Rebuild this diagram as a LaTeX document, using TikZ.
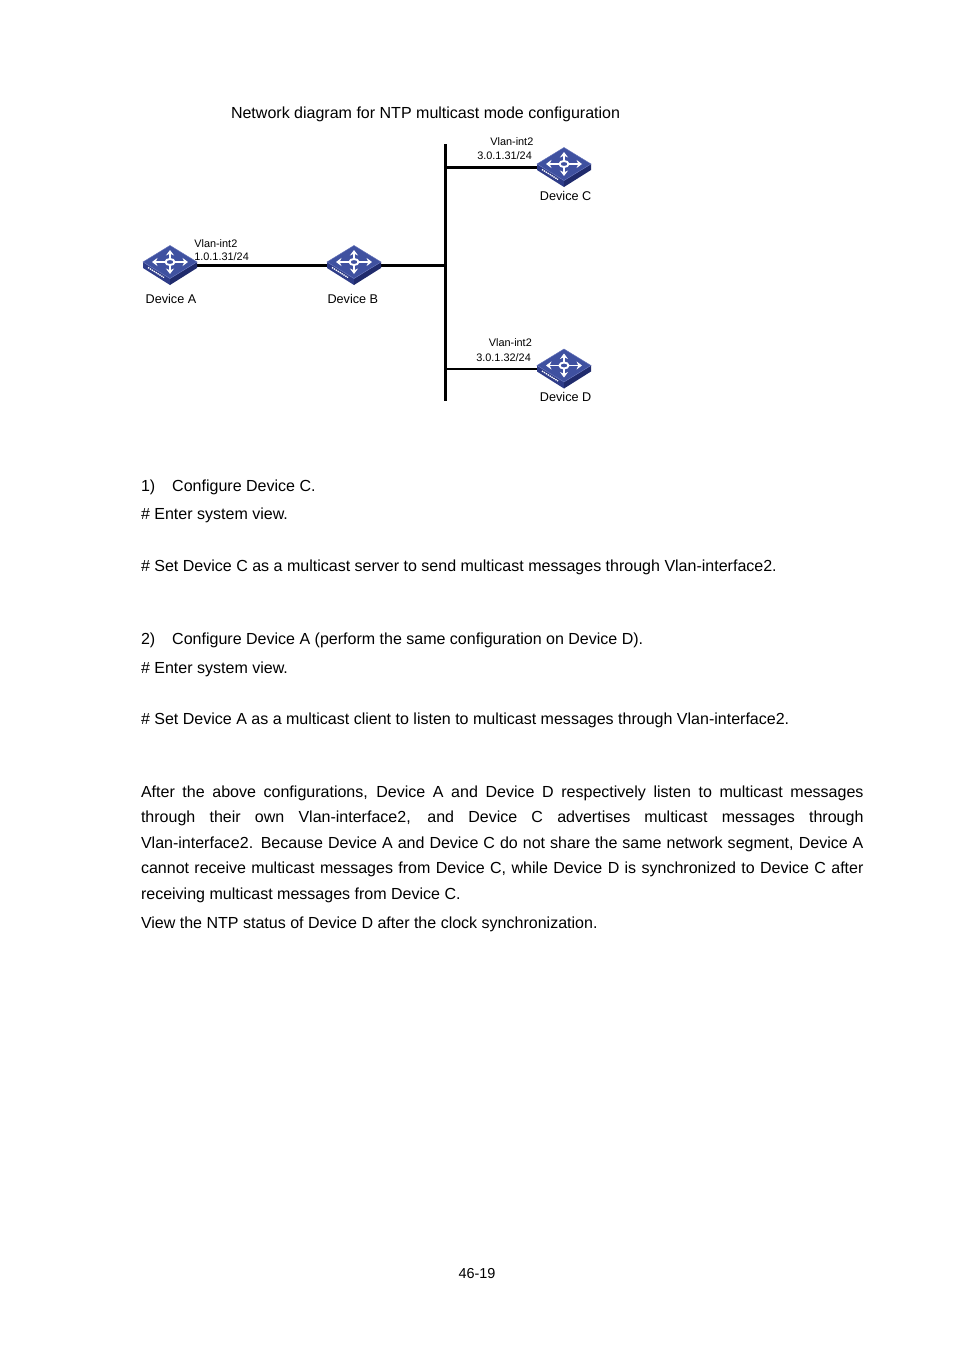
\documentclass[tikz,border=0pt]{standalone}
\usepackage{fontspec}
\setmainfont{Liberation Sans}
\usetikzlibrary{arrows.meta,positioning}
\definecolor{swtop}{HTML}{3F51A0}
\definecolor{swedge}{HTML}{6472B8}
\definecolor{swleft}{HTML}{2E3C88}
\definecolor{swright}{HTML}{202B6C}

\begin{document}
\begin{tikzpicture}[x=0.6242pt, y=-0.6242pt]
    \tikzset{
      body/.style={anchor=base west, inner sep=0pt, font=\fontsize{10}{16}\selectfont},
      para/.style={body, text width=451pt, align=justify},
      devlabel/.style={inner sep=0pt, font=\fontsize{7.9}{10}\selectfont},
      iflabel/.style={anchor=base west, inner sep=0pt, font=\fontsize{6.8}{9}\selectfont},
      swbox/.style={minimum width=33.7pt, minimum height=24.3pt, inner sep=0pt},
      link/.style={line width=1.7pt},
      swarrow/.style={white, line width=1.1pt, -{Stealth[length=3.4pt,width=5pt]}},
      switchicon/.pic={
        \fill[swleft]  (-27,-3.5) -- (-27,2.5) -- (0,19.5) -- (0,13) -- cycle;
        \fill[swright] (27,-3.5) -- (27,2.5) -- (0,19.5) -- (0,13) -- cycle;
        \fill[swtop, draw=swedge, line width=0.3pt] (0,-20) -- (27,-3.5) -- (0,13) -- (-27,-3.5) -- cycle;
        \draw[swarrow] (0,-7) -- (0,-15.5);
        \draw[swarrow] (0,0) -- (0,8.5);
        \draw[swarrow] (-5,-3.5) -- (-18,-3.5);
        \draw[swarrow] (5,-3.5) -- (18,-3.5);
        \draw[white, line width=1.2pt, fill=swtop] (0,-3.5) ellipse (4.5 and 3);
        \draw[white, line width=0.8pt, dash pattern=on 0.9pt off 0.5pt] (-22,2) -- (-6,12);
      }
    }
    \useasboundingbox (0,0) rectangle (954,1350);
    \node[body] (title) at (230.7,119) {Network diagram for NTP multicast mode configuration};

    \node[swbox] (devA) at (170,265.5) {};
    \node[swbox] (devB) at (354,265.5) {};
    \node[swbox] (devC) at (564,167.5) {};
    \node[swbox] (devD) at (564,369) {};
    \coordinate (bustop) at (445.5,144);
    \coordinate (busbot) at (445.5,401);
    \coordinate (busb) at (445.5,265.5);
    \coordinate (busc) at (445.5,167.5);
    \coordinate (busd) at (445.5,369);

    \draw[link] (bustop) -- (busbot);
    \draw[link] (devA) -- (devB);
    \draw[link] (devB) -- (busb);
    \draw[link] (busc) -- (devC);
    \draw[link] (busd) -- (devD);
    \foreach \dev in {devA,devB,devC,devD}
      \pic at (\dev) {switchicon};

    \node[devlabel, below=5.4pt of devA, xshift=0.6pt] (labA) {Device A};
    \node[devlabel, below=5.4pt of devB, xshift=-0.7pt] (labB) {Device B};
    \node[devlabel, below=2.2pt of devC, xshift=1pt] (labC) {Device C};
    \node[devlabel, below=2.2pt of devD, xshift=1pt] (labD) {Device D};

    \node[iflabel] (ifaname) at (194,247) {Vlan-int2};
    \node[iflabel] (ifaaddr) at (194,260) {1.0.1.31/24};
    \node[iflabel] (ifcname) at (490,145) {Vlan-int2};
    \node[iflabel] (ifcaddr) at (477,159) {3.0.1.31/24};
    \node[iflabel] (ifdname) at (488.5,346) {Vlan-int2};
    \node[iflabel] (ifdaddr) at (476,361) {3.0.1.32/24};

    \node[body] (stepone) at (140.7,491) {1)\hspace{10.6pt}Configure Device C.};
    \node[body] (enterc) at (140.7,519) {\# Enter system view.};
    \node[body] (setc) at (140.7,571) {\# Set Device C as a multicast server to send multicast messages through Vlan-interface2.};
    \node[body] (steptwo) at (140.7,644) {2)\hspace{10.6pt}Configure Device A (perform the same configuration on Device D).};
    \node[body] (entera) at (140.7,673) {\# Enter system view.};
    \node[body] (seta) at (140.7,724) {\# Set Device A as a multicast client to listen to multicast messages through Vlan-interface2.};
    \node[para] (after) at (140.7,797) {After the above configurations, Device A and Device D respectively listen to multicast messages\linebreak
      through their own Vlan-interface2, and Device C advertises multicast messages through\linebreak
      Vlan-interface2. Because Device A and Device C do not share the same network segment, Device A\linebreak
      cannot receive multicast messages from Device C, while Device D is synchronized to Device C after\linebreak
      receiving multicast messages from Device C.};
    \node[body] (view) at (140.7,928) {View the NTP status of Device D after the clock synchronization.};
    \node[inner sep=0pt, font=\fontsize{9}{11}\selectfont] (pagenum) at (477,1273.5) {46-19};
  \end{tikzpicture}
\end{document}
